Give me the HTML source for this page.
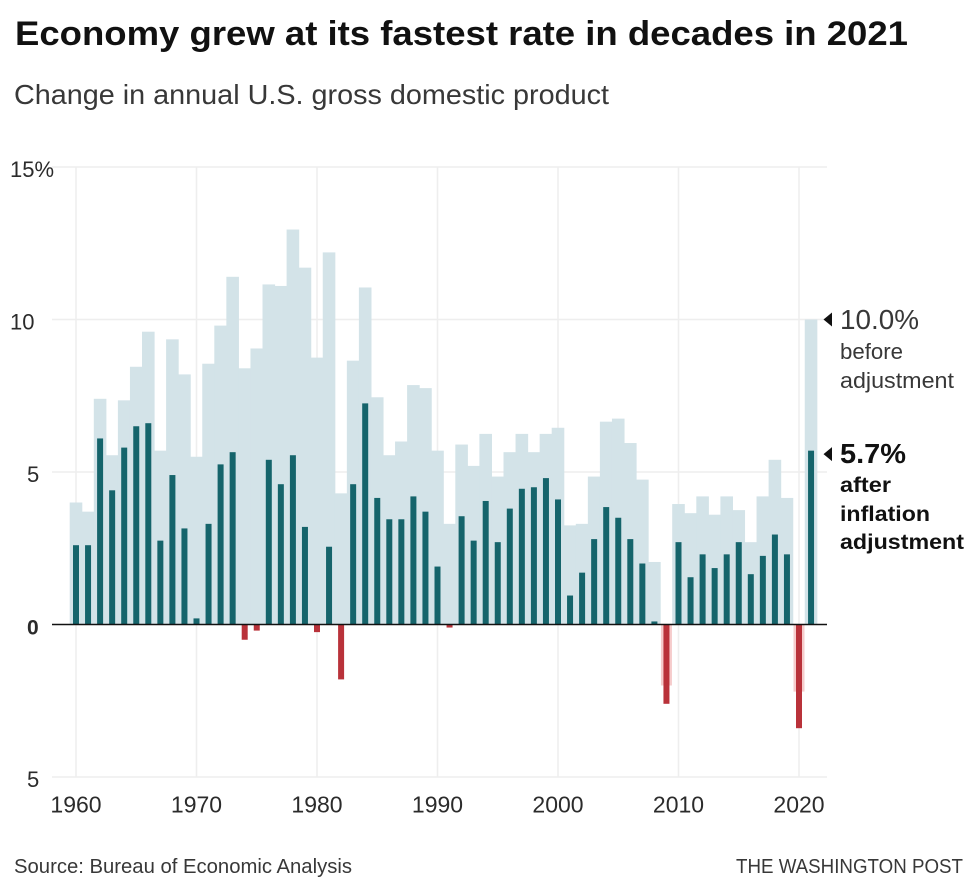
<!DOCTYPE html>
<html lang="en">
<head>
<meta charset="utf-8">
<title>Economy grew at its fastest rate in decades in 2021</title>
<style>
html,body{margin:0;padding:0;background:#fff;width:980px;height:893px;overflow:hidden}
svg{display:block}
text{font-family:"Liberation Sans",sans-serif;fill:#2b2b2b}
</style>
</head>
<body>
<svg id="chart" width="980" height="893" viewBox="0 0 980 893" xmlns="http://www.w3.org/2000/svg">
  <rect x="0" y="0" width="980" height="893" fill="#ffffff"/>
  <text x="15" y="45" font-size="34" font-weight="700" textLength="893" lengthAdjust="spacingAndGlyphs" style="fill:#111">Economy grew at its fastest rate in decades in 2021</text>
  <text x="14" y="104" font-size="28" textLength="595" lengthAdjust="spacingAndGlyphs" style="fill:#383838">Change in annual U.S. gross domestic product</text>
  <g id="grid"></g>
  <g id="nominal"></g>
  <g id="real"></g>
  <g id="axes"></g>
  <g id="annotations"></g>
  <text x="14" y="873" font-size="20" textLength="338" lengthAdjust="spacingAndGlyphs" style="fill:#383838">Source: Bureau of Economic Analysis</text>
  <text x="736" y="873" font-size="20" textLength="227" lengthAdjust="spacingAndGlyphs" style="fill:#383838">THE WASHINGTON POST</text>
</svg>
<script>
const startYear = 1960;
const nominalValues = [4.0,3.7,7.4,5.55,7.35,8.45,9.6,5.7,9.35,8.2,5.5,8.55,9.8,11.4,8.4,9.05,11.15,11.1,12.95,11.7,8.75,12.2,4.3,8.65,11.05,7.45,5.55,6.0,7.85,7.75,5.7,3.3,5.9,5.2,6.25,4.85,5.65,6.25,5.65,6.25,6.45,3.25,3.3,4.85,6.65,6.75,5.95,4.75,2.05,-2.0,3.95,3.65,4.2,3.6,4.2,3.75,2.7,4.2,5.4,4.15,-2.2,10.0];
const realValues = [2.6,2.6,6.1,4.4,5.8,6.5,6.6,2.75,4.9,3.15,0.2,3.3,5.25,5.65,-0.5,-0.2,5.4,4.6,5.55,3.2,-0.25,2.55,-1.8,4.6,7.25,4.15,3.45,3.45,4.2,3.7,1.9,-0.1,3.55,2.75,4.05,2.7,3.8,4.45,4.5,4.8,4.1,0.95,1.7,2.8,3.85,3.5,2.8,2.0,0.1,-2.6,2.7,1.55,2.3,1.85,2.3,2.7,1.65,2.25,2.95,2.3,-3.4,5.7];
const yTickValues = [15,10,5,0,-5];
const yTickLabels = ["15%","10","5","0","5"];
const xTickYears = [1960,1970,1980,1990,2000,2010,2020];

const NS = "http://www.w3.org/2000/svg";
const xScale = function (year) { return 76 + (year - 1960) * 12.05; };
const yScale = function (v) { return 624.5 - v * 30.5; };

function make(parent, tag, attrs) {
  const el = document.createElementNS(NS, tag);
  Object.keys(attrs).forEach(function (k) { el.setAttribute(k, attrs[k]); });
  parent.appendChild(el);
  return el;
}

const grid = document.getElementById("grid");
const nominal = document.getElementById("nominal");
const real = document.getElementById("real");
const axes = document.getElementById("axes");
const annotations = document.getElementById("annotations");

yTickValues.forEach(function (v, i) {
  const y = yScale(v);
  if (v !== 0) {
    const line = make(grid, "line", {x1: 52, x2: 827, y1: y, y2: y, stroke: "#eeeeee", "stroke-width": 1.5});
    
    
  }
  const label = make(axes, "text", {
    x: yTickLabels[i].length > 1 ? 10 : 27,
    y: y + 10,
    "font-size": v === 0 ? 21 : 22,
    "font-weight": v === 0 ? 700 : 400
  });
  label.textContent = yTickLabels[i];
  
  
});

xTickYears.forEach(function (yr) {
  const x = xScale(yr);
  const line = make(grid, "line", {x1: x, x2: x, y1: yScale(15), y2: yScale(-5), stroke: "#eeeeee", "stroke-width": 1.5});
  
  
  const label = make(axes, "text", {x: x, y: 812.5, "font-size": 23, "text-anchor": "middle"});
  label.textContent = String(yr);
  
  
});

nominalValues.forEach(function (v, i) {
  const x = xScale(startYear + i);
  const y0 = yScale(0);
  const y1 = yScale(v);
  const w = v < 0 ? 11 : 12.6;
  const bar = make(nominal, "rect", {
    x: x - w / 2, width: w,
    y: Math.min(y0, y1), height: Math.abs(y1 - y0),
    fill: v < 0 ? "#f6cccc" : "#d3e3e8"
  });
  
  
});

realValues.forEach(function (v, i) {
  const x = xScale(startYear + i);
  const y0 = yScale(0);
  const y1 = yScale(v);
  const bar = make(real, "rect", {
    x: x - 3, width: 6,
    y: Math.min(y0, y1), height: Math.abs(y1 - y0),
    fill: v < 0 ? "#b9323a" : "#15646b"
  });
  
  
});

const zeroLine = make(axes, "line", {x1: 52, x2: 827, y1: yScale(0), y2: yScale(0), stroke: "#111", "stroke-width": 1.5});



const lastNominal = nominalValues[nominalValues.length - 1];
const lastReal = realValues[realValues.length - 1];

function marker(y) {
  const p = make(annotations, "path", {d: "M823.5 " + y + "L832 " + (y - 7) + "L832 " + (y + 7) + "Z", fill: "#111"});
  
  
}
marker(yScale(lastNominal));
marker(yScale(lastReal) + 3.5);

function note(text, y, size, weight, width) {
  const t = make(annotations, "text", {x: 840, y: y, "font-size": size, "font-weight": weight, textLength: width, lengthAdjust: "spacingAndGlyphs"});
  t.textContent = text;
  t.style.fill = weight === 700 ? "#111" : "#383838";
  
  
}
note(lastNominal.toFixed(1) + "%", 329, 28, 400, 79);
note("before", 359, 22, 400, 63);
note("adjustment", 388, 22, 400, 114);
note(lastReal.toFixed(1) + "%", 463, 28, 700, 66);
note("after", 492, 21, 700, 51);
note("inflation", 521, 21, 700, 90);
note("adjustment", 549, 21, 700, 124);
</script>
</body>
</html>
